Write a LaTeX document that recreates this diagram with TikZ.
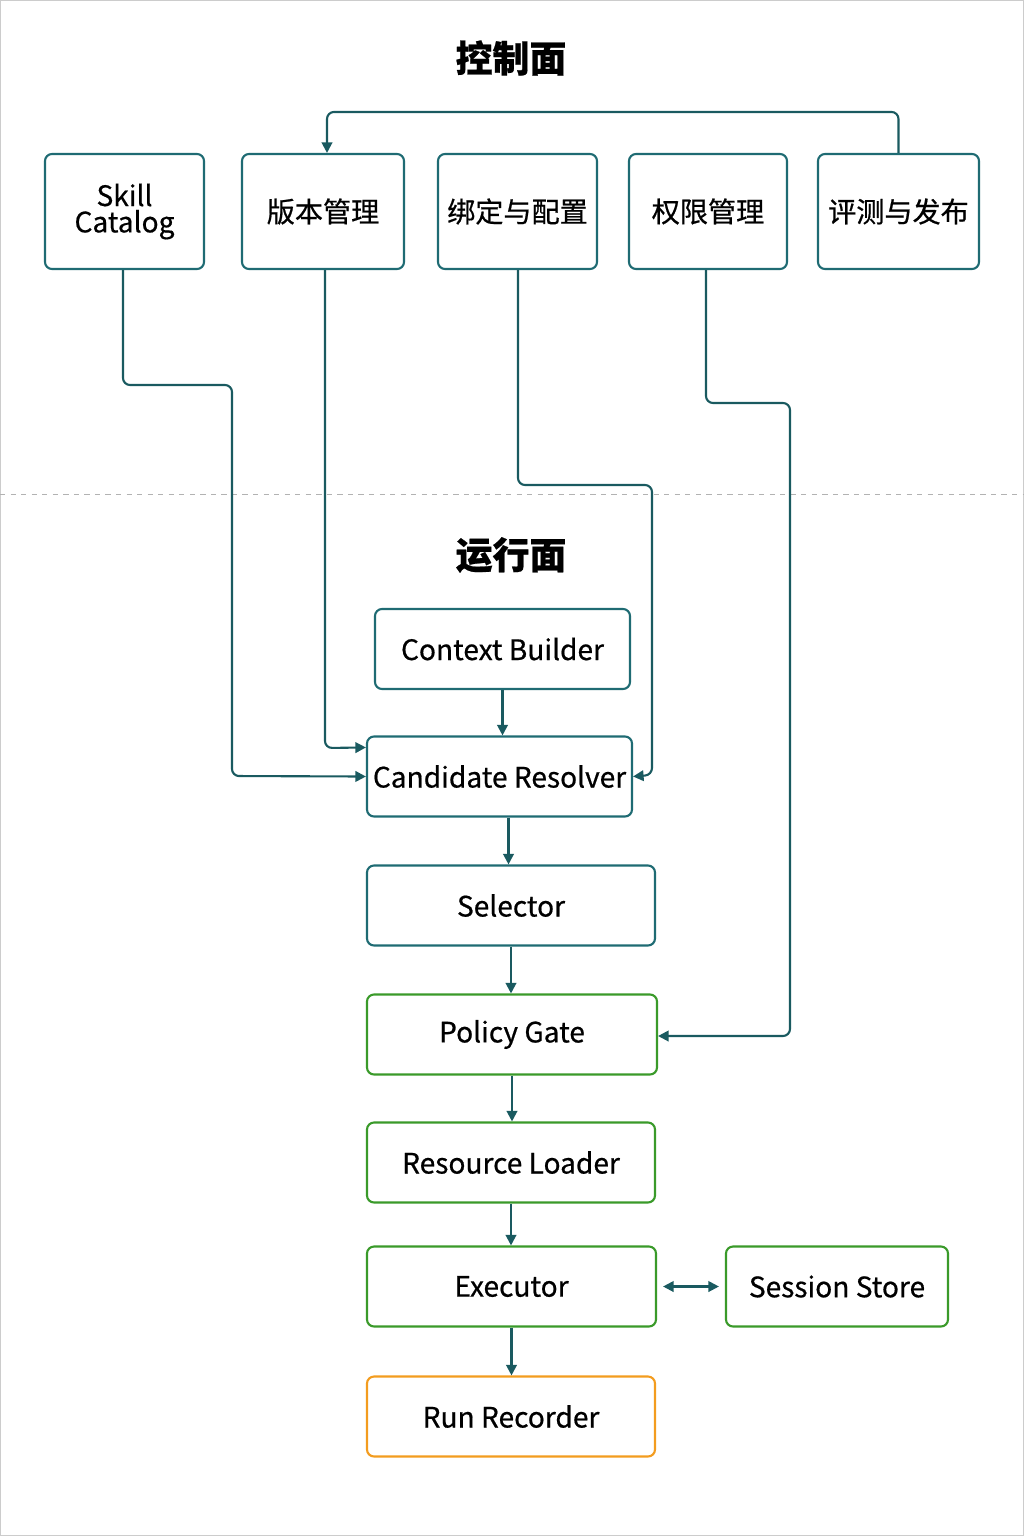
\documentclass[tikz,border=0pt]{standalone}
\usepackage{fontspec}
\setmainfont{Noto Sans CJK SC}[FakeBold=0.6]
\usetikzlibrary{arrows.meta}
\definecolor{teal1}{HTML}{1F6B73}
\definecolor{green1}{HTML}{3A9A2A}
\definecolor{orange1}{HTML}{F39C1F}
\definecolor{arr}{HTML}{1A5A60}
\begin{document}
\begin{tikzpicture}[x=0.02cm, y=-0.02cm]
    % Stili
    \tikzset{
        ctrl/.style={rectangle, draw=teal1, line width=1.2pt, rounded corners=4pt,
                     minimum height=115*0.02cm, align=center, font=\fontsize{16}{18}\selectfont},
        run/.style={rectangle, draw=teal1, line width=1.2pt, rounded corners=4pt,
                    minimum height=80*0.02cm, font=\fontsize{16}{18}\selectfont},
        rungreen/.style={run, draw=green1},
        runorange/.style={run, draw=orange1},
        title/.style={font=\bfseries\fontsize{21}{24}\selectfont},
        link/.style={draw=arr, line width=1.2pt, -{Triangle[length=6pt,width=6pt]}}
    }
    \useasboundingbox (0,0) rectangle (1024,1536);
    \draw[gray!40] (0.5,0.5) rectangle (1023.5,1535.5);
    \draw[gray!60, dashed, line width=0.4pt] (0,494) -- (1024,494);

    % Titoli
    \node[title] (tctrl) at (511,58) {控制面};
    \node[title] (trun) at (511,555) {运行面};

    % Piano di controllo
    \node[ctrl, minimum width=159*0.02cm] (catalog) at (124.5,211.5) {Skill\\[-3pt]Catalog};
    \node[ctrl, minimum width=162*0.02cm] (version) at (323,211.5) {版本管理};
    \node[ctrl, minimum width=159*0.02cm] (binding) at (517.5,211.5) {绑定与配置};
    \node[ctrl, minimum width=158*0.02cm] (perm) at (708,211.5) {权限管理};
    \node[ctrl, minimum width=161*0.02cm] (eval) at (898.5,211.5) {评测与发布};

    % Piano di esecuzione
    \node[run, minimum width=255*0.02cm] (ctx) at (502.5,649) {Context Builder};
    \node[run, minimum width=265*0.02cm] (cand) at (499.5,776.5) {Candidate Resolver};
    \node[run, minimum width=288*0.02cm] (sel) at (511,905.5) {Selector};
    \node[rungreen, minimum width=290*0.02cm] (policy) at (512,1034.5) {Policy Gate};
    \node[rungreen, minimum width=288*0.02cm] (loader) at (511,1162.5) {Resource Loader};
    \node[rungreen, minimum width=289*0.02cm] (exec) at (511.5,1286.5) {Executor};
    \node[rungreen, minimum width=222*0.02cm] (session) at (837,1286.5) {Session Store};
    \node[runorange, minimum width=288*0.02cm] (rec) at (511,1416.5) {Run Recorder};

    % Connessioni controllo
    \draw[link, rounded corners=4pt] (eval.north) -- ++(0,-41) -| ([xshift=4*0.02cm]version.north);
    \draw[link, rounded corners=4pt] ([xshift=-1.5*0.02cm]catalog.south) -- (123,385) -- (232,385) -- (232,776) -- (cand.west);
    \draw[link, rounded corners=4pt] ([xshift=2*0.02cm]version.south) -- (325,748) -- ([yshift=-12*0.02cm]cand.north west);
    \draw[link, rounded corners=4pt] ([xshift=0.5*0.02cm]binding.south) -- (518,485) -- (652,485) -- (652,775) -- (cand.east);
    \draw[link, rounded corners=4pt] ([xshift=-2*0.02cm]perm.south) -- (706,403) -- (790,403) -- (790,1036) -- ([yshift=-1.5*0.02cm]policy.east);

    % Connessioni esecuzione
    \draw[link] (ctx.south) -- (ctx.south |- cand.north);
    \draw[link] ([xshift=9*0.02cm]cand.south) -- ([xshift=9*0.02cm]cand.south |- sel.north);
    \draw[link] (sel.south) -- (sel.south |- policy.north);
    \draw[link] (policy.south) -- (policy.south |- loader.north);
    \draw[link] (loader.south) -- (loader.south |- exec.north);
    \draw[link] (exec.south) -- (exec.south |- rec.north);
    \draw[link, {Triangle[length=6pt,width=6pt]}-{Triangle[length=6pt,width=6pt]}] ([xshift=6*0.02cm]exec.east) -- ([xshift=-6*0.02cm]session.west);
\end{tikzpicture}
\end{document}
